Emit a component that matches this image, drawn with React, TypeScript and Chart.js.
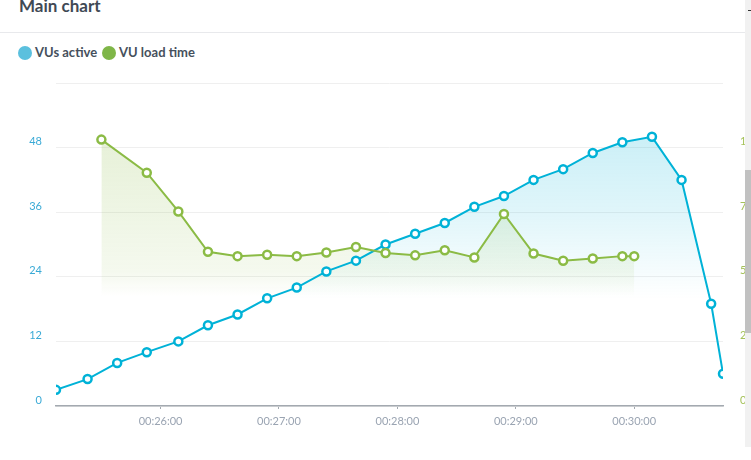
import React, { useEffect, useRef } from 'react';
import { Chart, registerables } from 'chart.js';

Chart.register(...registerables);

// time in seconds since test start
const vuTimes = [1507, 1523, 1538, 1553, 1569, 1584, 1599, 1614, 1629, 1644, 1659, 1674, 1689, 1704, 1719, 1734, 1749, 1764, 1779, 1794, 1809, 1824, 1839, 1845];
const vuActive = [3, 5, 8, 10, 12, 15, 17, 20, 22, 25, 27, 30, 32, 34, 37, 39, 42, 44, 47, 49, 50, 42, 19, 6];

const loadTimes = [1530, 1553, 1569, 1584, 1599, 1614, 1629, 1644, 1659, 1674, 1689, 1704, 1719, 1734, 1749, 1764, 1779, 1794, 1800];
const loadValues = [1031, 903, 753, 597, 580, 585, 580, 594, 615, 592, 583, 603, 575, 743, 590, 562, 571, 580, 580];

const xTickValues = [1560, 1620, 1680, 1740, 1800];
const xTickLabels = ['00:26:00', '00:27:00', '00:28:00', '00:29:00', '00:30:00'];

const leftTickValues = [0, 12, 24, 36, 48, 60];
const leftTickLabels = ['0', '12', '24', '36', '48', ''];

const rightTickValues = [0, 250, 500, 750, 1000, 1250];
const rightTickLabels = ['0', '250', '500', '750', '1,000', ''];

const seriesNames = ['VUs active', 'VU load time'];

const BLUE = 'rgb(0,178,215)';
const GREEN = 'rgb(139,187,69)';

export default function App() {
  const ref = useRef<HTMLCanvasElement | null>(null);

  useEffect(() => {
    document.body.style.margin = '0';
    const canvas = ref.current;
    if (!canvas) return;

    const setTicks = (values: number[]) => (scale: any) => {
      scale.ticks = values.map((v) => ({ value: v }));
    };
    const fixSize = (w: number | null, h: number | null) => (s: any) => {
      if (w !== null) s.width = w;
      if (h !== null) s.height = h;
      s.paddingTop = 0;
      s.paddingBottom = 0;
      s.paddingLeft = 0;
      s.paddingRight = 0;
    };

    const chart = new Chart(canvas, {
      type: 'line',
      data: {
        datasets: [
          {
            label: seriesNames[0],
            data: vuTimes.map((t, i) => ({ x: t, y: vuActive[i] })),
            yAxisID: 'y',
            order: 1,
            borderColor: BLUE,
            borderWidth: 2,
            pointRadius: 4,
            pointBorderWidth: 2.5,
            pointBackgroundColor: '#ffffff',
            pointBorderColor: BLUE,
            tension: 0,
            fill: 'origin',
            backgroundColor: (ctx: any) => {
              const { chart: c } = ctx;
              const area = c.chartArea;
              if (!area) return 'transparent';
              const g = c.ctx.createLinearGradient(0, area.top, 0, area.top + 216);
              g.addColorStop(0, 'rgba(0,178,215,0.26)');
              g.addColorStop(0.6, 'rgba(0,178,215,0.12)');
              g.addColorStop(1, 'rgba(0,178,215,0)');
              return g;
            },
          },
          {
            label: seriesNames[1],
            data: loadTimes.map((t, i) => ({ x: t, y: loadValues[i] })),
            yAxisID: 'y1',
            order: 0,
            borderColor: GREEN,
            borderWidth: 2,
            pointRadius: 4,
            pointBorderWidth: 2.5,
            pointBackgroundColor: '#ffffff',
            pointBorderColor: GREEN,
            tension: 0,
            fill: 'origin',
            backgroundColor: (ctx: any) => {
              const { chart: c } = ctx;
              const area = c.chartArea;
              if (!area) return 'transparent';
              const g = c.ctx.createLinearGradient(0, area.top, 0, area.top + 214);
              g.addColorStop(0, 'rgba(139,187,69,0.26)');
              g.addColorStop(0.88, 'rgba(139,187,69,0.09)');
              g.addColorStop(1, 'rgba(139,187,69,0)');
              return g;
            },
          },
        ],
      },
      options: {
        animation: false,
        responsive: false,
        layout: { autoPadding: false, padding: { top: 13, left: 0, right: 0, bottom: 0 } },
        plugins: {
          legend: { display: false },
          tooltip: { enabled: false },
          filler: { drawTime: 'beforeDatasetsDraw' },
        },
        scales: {
          x: {
            type: 'linear',
            min: 1507,
            max: 1845,
            afterBuildTicks: setTicks(xTickValues),
            afterFit: fixSize(null, 54),
            grid: {
              display: true,
              drawOnChartArea: false,
              drawTicks: true,
              tickLength: 3,
              color: '#a3a9b0',
            },
            border: { display: true, color: '#a3a9b0', width: 1.5 },
            ticks: {
              padding: 6,
              color: '#9aa4b2',
              font: { family: 'Lato', size: 11 },
              maxRotation: 0,
              autoSkip: false,
              callback: (_v: any, i: number) => xTickLabels[i],
            },
          },
          y: {
            type: 'linear',
            position: 'left',
            min: 0,
            max: 60,
            afterBuildTicks: setTicks(leftTickValues),
            afterFit: fixSize(56, null),
            grid: { color: '#efefef', drawTicks: false },
            border: { display: false },
            ticks: {
              padding: 14,
              labelOffset: -6,
              color: '#3aaad6',
              font: { family: 'Lato', size: 11 },
              callback: (_v: any, i: number) => leftTickLabels[i],
            },
          },
          y1: {
            type: 'linear',
            position: 'right',
            min: 0,
            max: 1250,
            afterBuildTicks: setTicks(rightTickValues),
            afterFit: fixSize(28, null),
            grid: { display: false, drawTicks: false },
            border: { display: false },
            ticks: {
              padding: 17,
              labelOffset: -6,
              color: '#a5c25a',
              font: { family: 'Lato', size: 11 },
              callback: (_v: any, i: number) => rightTickLabels[i],
            },
          },
        },
      },
    } as any);

    return () => chart.destroy();
  }, []);

  return (
    <div
      style={{
        position: 'fixed',
        left: 0,
        top: 0,
        width: 751,
        height: 460,
        background: '#ffffff',
        overflow: 'hidden',
        fontFamily: 'Lato, sans-serif',
      }}
    >
      <div
        style={{
          position: 'absolute',
          left: 19,
          top: -4,
          fontSize: 17,
          fontWeight: 700,
          lineHeight: '20px',
          color: '#3f4955',
          whiteSpace: 'nowrap',
        }}
      >
        Main chart
      </div>
      <div style={{ position: 'absolute', left: 0, top: 32, width: 745, height: 1, background: '#e8e9ec' }} />

      <div style={{ position: 'absolute', left: 18, top: 46, width: 14, height: 14, borderRadius: 7, background: '#5bc0de' }} />
      <div
        style={{
          position: 'absolute',
          left: 35,
          top: 44,
          fontSize: 13,
          fontWeight: 700,
          lineHeight: '17px',
          color: '#46505c',
          whiteSpace: 'nowrap',
        }}
      >
        {seriesNames[0]}
      </div>
      <div style={{ position: 'absolute', left: 102, top: 46, width: 14, height: 14, borderRadius: 7, background: '#7fb648' }} />
      <div
        style={{
          position: 'absolute',
          left: 119,
          top: 44,
          fontSize: 13,
          fontWeight: 700,
          lineHeight: '17px',
          color: '#46505c',
          whiteSpace: 'nowrap',
        }}
      >
        {seriesNames[1]}
      </div>

      <canvas ref={ref} width={751} height={390} style={{ position: 'absolute', left: 0, top: 70, width: 751, height: 390 }} />

      <div style={{ position: 'absolute', left: 745, top: 0, width: 6, height: 447, background: '#f1f1f1' }} />
      <div style={{ position: 'absolute', left: 745, top: 170, width: 6, height: 163, background: '#c1c1c1' }} />
      <div style={{ position: 'absolute', left: 748, top: 10, width: 3, height: 1, background: '#333' }} />
    </div>
  );
}
